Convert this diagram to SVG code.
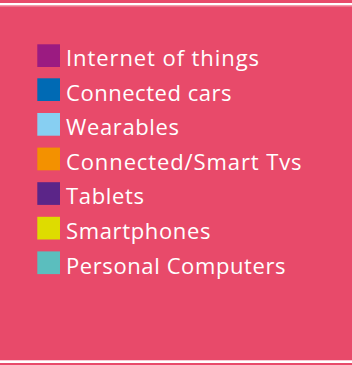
<svg xmlns="http://www.w3.org/2000/svg" width="352" height="365" viewBox="0 0 352 365">
<style>
.t{font-family:"Open Sans","Noto Sans",sans-serif;font-size:22px;fill:#ffffff}
</style>
<rect x="0" y="0" width="352" height="365" fill="#E84A6A"/>
<rect x="0" y="3" width="352" height="2" fill="#ffffff"/>
<rect x="0" y="5" width="352" height="1.5" fill="#F39AAA"/>
<rect x="0" y="360" width="352" height="1" fill="#F8C8D2"/>
<rect x="0" y="361" width="352" height="2" fill="#ffffff"/>
<g id="legend-iot"><rect x="37.3" y="44.3" width="22.7" height="22.7" fill="#9B1B81"/><text class="t" x="66" y="66" textLength="193" lengthAdjust="spacing">Internet of things</text></g>
<g id="legend-cars"><rect x="37.3" y="78.3" width="22.7" height="22.7" fill="#006AB4"/><text class="t" x="66" y="100.6" textLength="165.5" lengthAdjust="spacing">Connected cars</text></g>
<g id="legend-wearables"><rect x="37.3" y="113" width="22.7" height="22.7" fill="#87CFF2"/><text class="t" x="66" y="135.2" textLength="113" lengthAdjust="spacing">Wearables</text></g>
<g id="legend-tvs"><rect x="37.3" y="147.6" width="22.7" height="22.7" fill="#F39100"/><text class="t" x="66" y="169.8" textLength="235.5" lengthAdjust="spacing">Connected/Smart Tvs</text></g>
<g id="legend-tablets"><rect x="37.3" y="182.2" width="22.7" height="22.7" fill="#5B2588"/><text class="t" x="66" y="204.4" textLength="78" lengthAdjust="spacing">Tablets</text></g>
<g id="legend-smartphones"><rect x="37.3" y="216.8" width="22.7" height="22.7" fill="#DEDC00"/><text class="t" x="66" y="239" textLength="144.5" lengthAdjust="spacing">Smartphones</text></g>
<g id="legend-pc"><rect x="37.3" y="251.4" width="22.7" height="22.7" fill="#5BBEBE"/><text class="t" x="66" y="273.6" textLength="219.5" lengthAdjust="spacing">Personal Computers</text></g>
</svg>
